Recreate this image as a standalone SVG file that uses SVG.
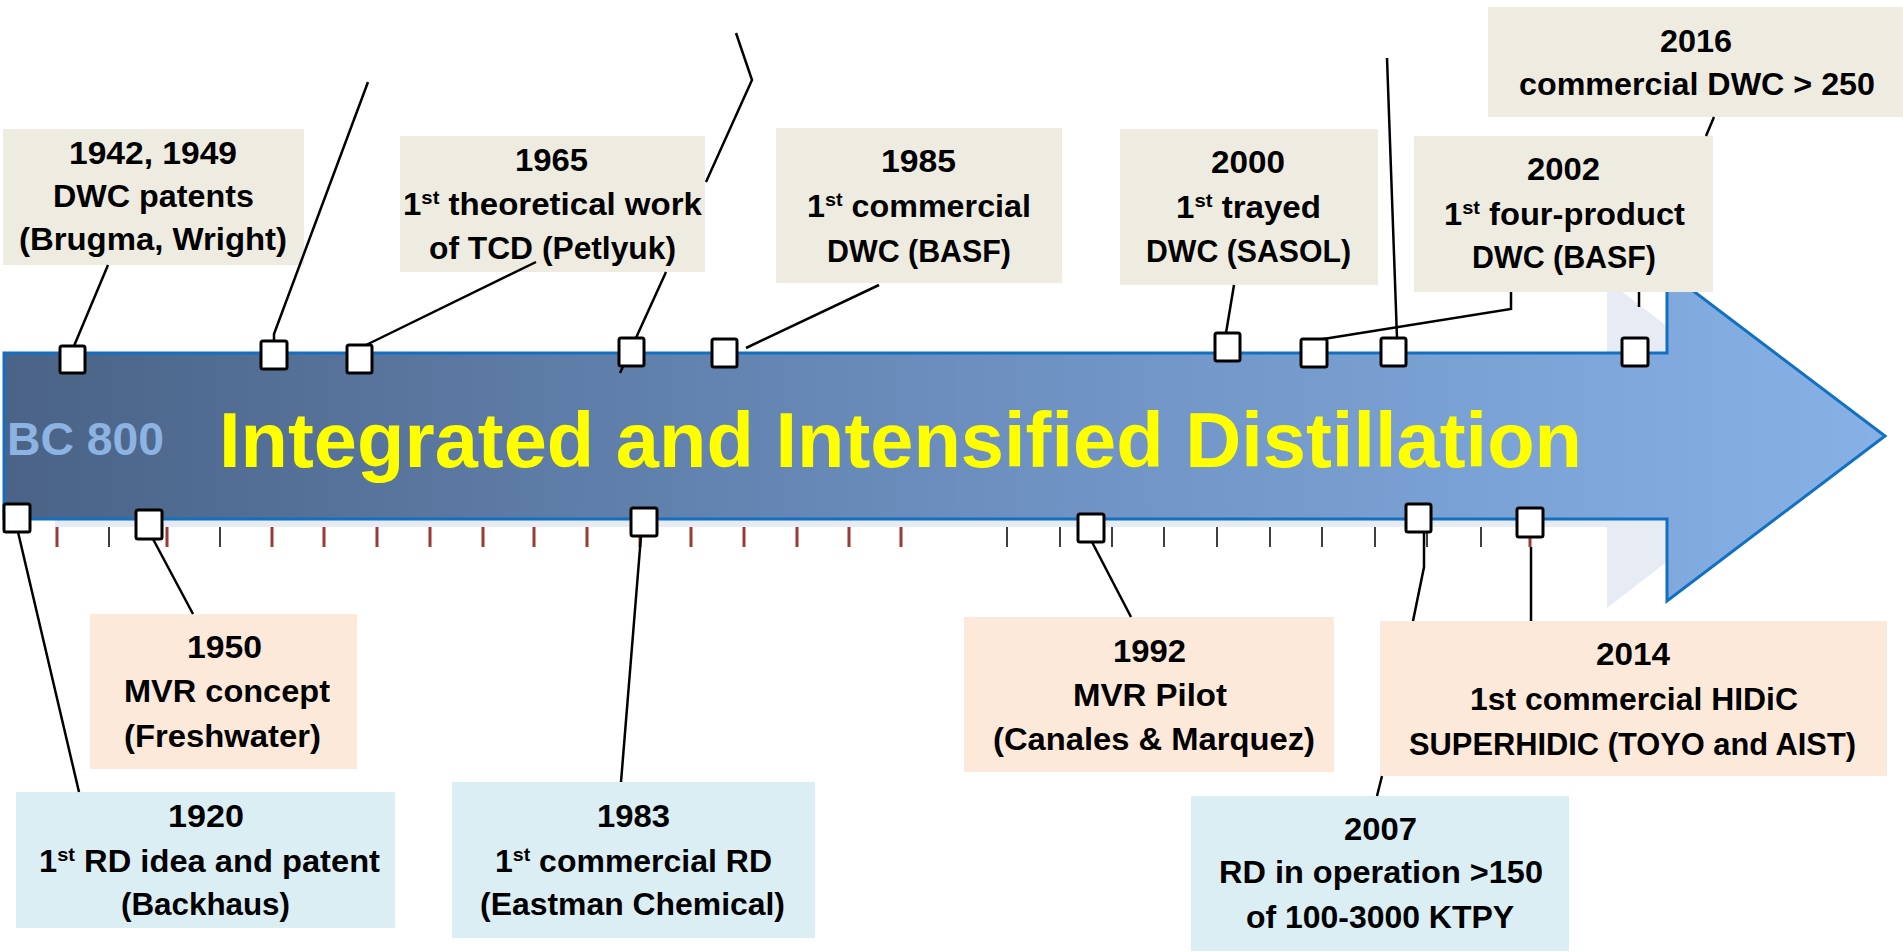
<svg xmlns="http://www.w3.org/2000/svg" width="1903" height="952" viewBox="0 0 1903 952">
  <defs>
    <linearGradient id="arrowFill" x1="4" y1="0" x2="1885" y2="0" gradientUnits="userSpaceOnUse">
      <stop offset="0" stop-color="#4a6386"/>
      <stop offset="0.5" stop-color="#6b8ebe"/>
      <stop offset="1" stop-color="#87b1e6"/>
    </linearGradient>
  </defs>
  <style>
    .t { font-family: "Liberation Sans", Arial, sans-serif; font-weight: bold; font-size: 31px; fill: #000; }
    .sup { font-size: 19px; }
    .beige { fill: #eeece1; }
    .peach { fill: #fde9d9; }
    .blue { fill: #dbeef3; }
    .conn { fill: none; stroke: #000; stroke-width: 2.5; stroke-linejoin: miter; }
    .sq { fill: #fff; stroke: #000; stroke-width: 3; }
    .tick-r { stroke: #9b3b36; stroke-width: 3; }
    .tick-b { stroke: #000; stroke-width: 1.5; }
  </style>

  <rect width="1903" height="952" fill="#fff"/>

  <!-- timeline arrow with its pale drop shadow -->
  <g id="timeline">
    <polygon points="55,361 1607,361 1607,280 1820,444 1607,608 1607,527 55,527" fill="#e7ecf4"/>
    <polygon points="4,353 1667,353 1667,271 1885,436 1667,601 1667,519 4,519" fill="url(#arrowFill)" stroke="#1270c2" stroke-width="3"/>
    <text x="7" y="455" font-family="Liberation Sans, Arial, sans-serif" font-weight="bold" font-size="46" fill="#8db3e2" textLength="157" lengthAdjust="spacingAndGlyphs">BC 800</text>
    <text x="219" y="467" font-family="Liberation Sans, Arial, sans-serif" font-weight="bold" font-size="77" fill="#ffff00" textLength="1363" lengthAdjust="spacingAndGlyphs">Integrated and Intensified Distillation</text>
  </g>

  <!-- scale ticks under the arrow -->
  <g id="ticks">
    <path class="tick-r" d="M57,527V547M167,527V547M272,527V547M324,527V547M377,527V547M430,527V547M483,527V547M534,527V547M587,527V547M640,527V547M691,527V547M744,527V547M797,527V547M849,527V547M901,527V547M1530,527V547"/>
    <path class="tick-b" d="M109,527V547M220,527V547M1007,527V547M1060,527V547M1112,527V547M1164,527V547M1217,527V547M1270,527V547M1322,527V547M1375,527V547M1427,527V547M1481,527V547"/>
  </g>

  <!-- milestones above the arrow -->
  <g id="m1942">
    <rect class="beige" x="3" y="129" width="301" height="136"/>
    <text class="t" x="69" y="164" textLength="168" lengthAdjust="spacingAndGlyphs">1942, 1949</text>
    <text class="t" x="53" y="207" textLength="201" lengthAdjust="spacingAndGlyphs">DWC patents</text>
    <text class="t" x="19" y="250" textLength="268" lengthAdjust="spacingAndGlyphs">(Brugma, Wright)</text>
  </g>
  <g id="m1965">
    <rect class="beige" x="400" y="136" width="305" height="136"/>
    <text class="t" x="515" y="171" textLength="73" lengthAdjust="spacingAndGlyphs">1965</text>
    <text class="t" x="403" y="215" textLength="299" lengthAdjust="spacingAndGlyphs">1<tspan class="sup" dy="-11">st</tspan><tspan dy="11"> theoretical work</tspan></text>
    <text class="t" x="429" y="259" textLength="247" lengthAdjust="spacingAndGlyphs">of TCD (Petlyuk)</text>
  </g>
  <g id="m1985">
    <rect class="beige" x="776" y="128" width="286" height="155"/>
    <text class="t" x="881" y="172" textLength="75" lengthAdjust="spacingAndGlyphs">1985</text>
    <text class="t" x="807" y="217" textLength="224" lengthAdjust="spacingAndGlyphs">1<tspan class="sup" dy="-11">st</tspan><tspan dy="11"> commercial</tspan></text>
    <text class="t" x="827" y="262" textLength="184" lengthAdjust="spacingAndGlyphs">DWC (BASF)</text>
  </g>
  <g id="m2000">
    <rect class="beige" x="1120" y="129" width="258" height="156"/>
    <text class="t" x="1211" y="173" textLength="74" lengthAdjust="spacingAndGlyphs">2000</text>
    <text class="t" x="1176" y="218" textLength="145" lengthAdjust="spacingAndGlyphs">1<tspan class="sup" dy="-11">st</tspan><tspan dy="11"> trayed</tspan></text>
    <text class="t" x="1146" y="262" textLength="205" lengthAdjust="spacingAndGlyphs">DWC (SASOL)</text>
  </g>
  <g id="m2002">
    <rect class="beige" x="1414" y="136" width="299" height="156"/>
    <text class="t" x="1527" y="180" textLength="73" lengthAdjust="spacingAndGlyphs">2002</text>
    <text class="t" x="1444" y="225" textLength="241" lengthAdjust="spacingAndGlyphs">1<tspan class="sup" dy="-11">st</tspan><tspan dy="11"> four-product</tspan></text>
    <text class="t" x="1472" y="268" textLength="184" lengthAdjust="spacingAndGlyphs">DWC (BASF)</text>
  </g>
  <g id="m2016">
    <rect class="beige" x="1488" y="7" width="415" height="110"/>
    <text class="t" x="1660" y="52" textLength="72" lengthAdjust="spacingAndGlyphs">2016</text>
    <text class="t" x="1519" y="95" textLength="356" lengthAdjust="spacingAndGlyphs">commercial DWC &gt; 250</text>
  </g>

  <!-- milestones below the arrow -->
  <g id="m1950">
    <rect class="peach" x="90" y="614" width="267" height="155"/>
    <text class="t" x="187" y="658" textLength="75" lengthAdjust="spacingAndGlyphs">1950</text>
    <text class="t" x="124" y="702" textLength="206" lengthAdjust="spacingAndGlyphs">MVR concept</text>
    <text class="t" x="124" y="747" textLength="197" lengthAdjust="spacingAndGlyphs">(Freshwater)</text>
  </g>
  <g id="m1920">
    <rect class="blue" x="16" y="792" width="379" height="136"/>
    <text class="t" x="168" y="827" textLength="76" lengthAdjust="spacingAndGlyphs">1920</text>
    <text class="t" x="39" y="872" textLength="341" lengthAdjust="spacingAndGlyphs">1<tspan class="sup" dy="-11">st</tspan><tspan dy="11"> RD idea and patent</tspan></text>
    <text class="t" x="121" y="915" textLength="169" lengthAdjust="spacingAndGlyphs">(Backhaus)</text>
  </g>
  <g id="m1983">
    <rect class="blue" x="452" y="782" width="363" height="156"/>
    <text class="t" x="597" y="827" textLength="73" lengthAdjust="spacingAndGlyphs">1983</text>
    <text class="t" x="495" y="872" textLength="277" lengthAdjust="spacingAndGlyphs">1<tspan class="sup" dy="-11">st</tspan><tspan dy="11"> commercial RD</tspan></text>
    <text class="t" x="480" y="915" textLength="305" lengthAdjust="spacingAndGlyphs">(Eastman Chemical)</text>
  </g>
  <g id="m1992">
    <rect class="peach" x="964" y="617" width="370" height="155"/>
    <text class="t" x="1113" y="662" textLength="73" lengthAdjust="spacingAndGlyphs">1992</text>
    <text class="t" x="1073" y="706" textLength="154" lengthAdjust="spacingAndGlyphs">MVR Pilot</text>
    <text class="t" x="993" y="750" textLength="322" lengthAdjust="spacingAndGlyphs">(Canales &amp; Marquez)</text>
  </g>
  <g id="m2014">
    <rect class="peach" x="1380" y="621" width="507" height="155"/>
    <text class="t" x="1596" y="665" textLength="74" lengthAdjust="spacingAndGlyphs">2014</text>
    <text class="t" x="1470" y="710" textLength="328" lengthAdjust="spacingAndGlyphs">1st commercial HIDiC</text>
    <text class="t" x="1409" y="755" textLength="447" lengthAdjust="spacingAndGlyphs">SUPERHIDIC (TOYO and AIST)</text>
  </g>
  <g id="m2007">
    <rect class="blue" x="1191" y="796" width="378" height="155"/>
    <text class="t" x="1344" y="840" textLength="73" lengthAdjust="spacingAndGlyphs">2007</text>
    <text class="t" x="1219" y="883" textLength="324" lengthAdjust="spacingAndGlyphs">RD in operation &gt;150</text>
    <text class="t" x="1246" y="928" textLength="268" lengthAdjust="spacingAndGlyphs">of 100-3000 KTPY</text>
  </g>

  <!-- leader lines; segments that run behind a label box are left out -->
  <g id="connectors" class="conn">
    <polyline points="108,265 74,346"/>
    <polyline points="274,340 274,334 368,82"/>
    <polyline points="362,347 536,262"/>
    <polyline points="620,373 666,272"/>
    <polyline points="706,182 752,80 736,33"/>
    <polyline points="879,285 746,348"/>
    <polyline points="1234,285 1226,333"/>
    <polyline points="1511,292 1511,309 1317,340"/>
    <polyline points="1387,58 1397,338"/>
    <polyline points="1706,136 1714,117"/>
    <polyline points="1639,292 1639,307"/>
    <polyline points="18,532 79,792"/>
    <polyline points="153,539 193,614"/>
    <polyline points="641,536 621,782"/>
    <polyline points="1092,542 1131,617"/>
    <polyline points="1424,532 1424,567 1413,621"/>
    <polyline points="1382,776 1377,796"/>
    <polyline points="1531,547 1531,621"/>
  </g>

  <!-- anchor markers on the arrow edges -->
  <g id="markers">
    <rect class="sq" x="60" y="346" width="25" height="27" rx="2"/>
    <rect class="sq" x="261" y="341" width="26" height="28" rx="2"/>
    <rect class="sq" x="347" y="345" width="25" height="28" rx="2"/>
    <rect class="sq" x="619" y="338" width="25" height="28" rx="2"/>
    <rect class="sq" x="712" y="339" width="25" height="28" rx="2"/>
    <rect class="sq" x="1215" y="333" width="25" height="28" rx="2"/>
    <rect class="sq" x="1301" y="339" width="26" height="28" rx="2"/>
    <rect class="sq" x="1381" y="338" width="25" height="28" rx="2"/>
    <rect class="sq" x="1622" y="338" width="26" height="28" rx="2"/>
    <rect class="sq" x="4" y="504" width="26" height="28" rx="2"/>
    <rect class="sq" x="136" y="510" width="26" height="29" rx="2"/>
    <rect class="sq" x="631" y="508" width="26" height="28" rx="2"/>
    <rect class="sq" x="1078" y="514" width="26" height="28" rx="2"/>
    <rect class="sq" x="1406" y="504" width="25" height="28" rx="2"/>
    <rect class="sq" x="1517" y="508" width="26" height="29" rx="2"/>
  </g>
</svg>
